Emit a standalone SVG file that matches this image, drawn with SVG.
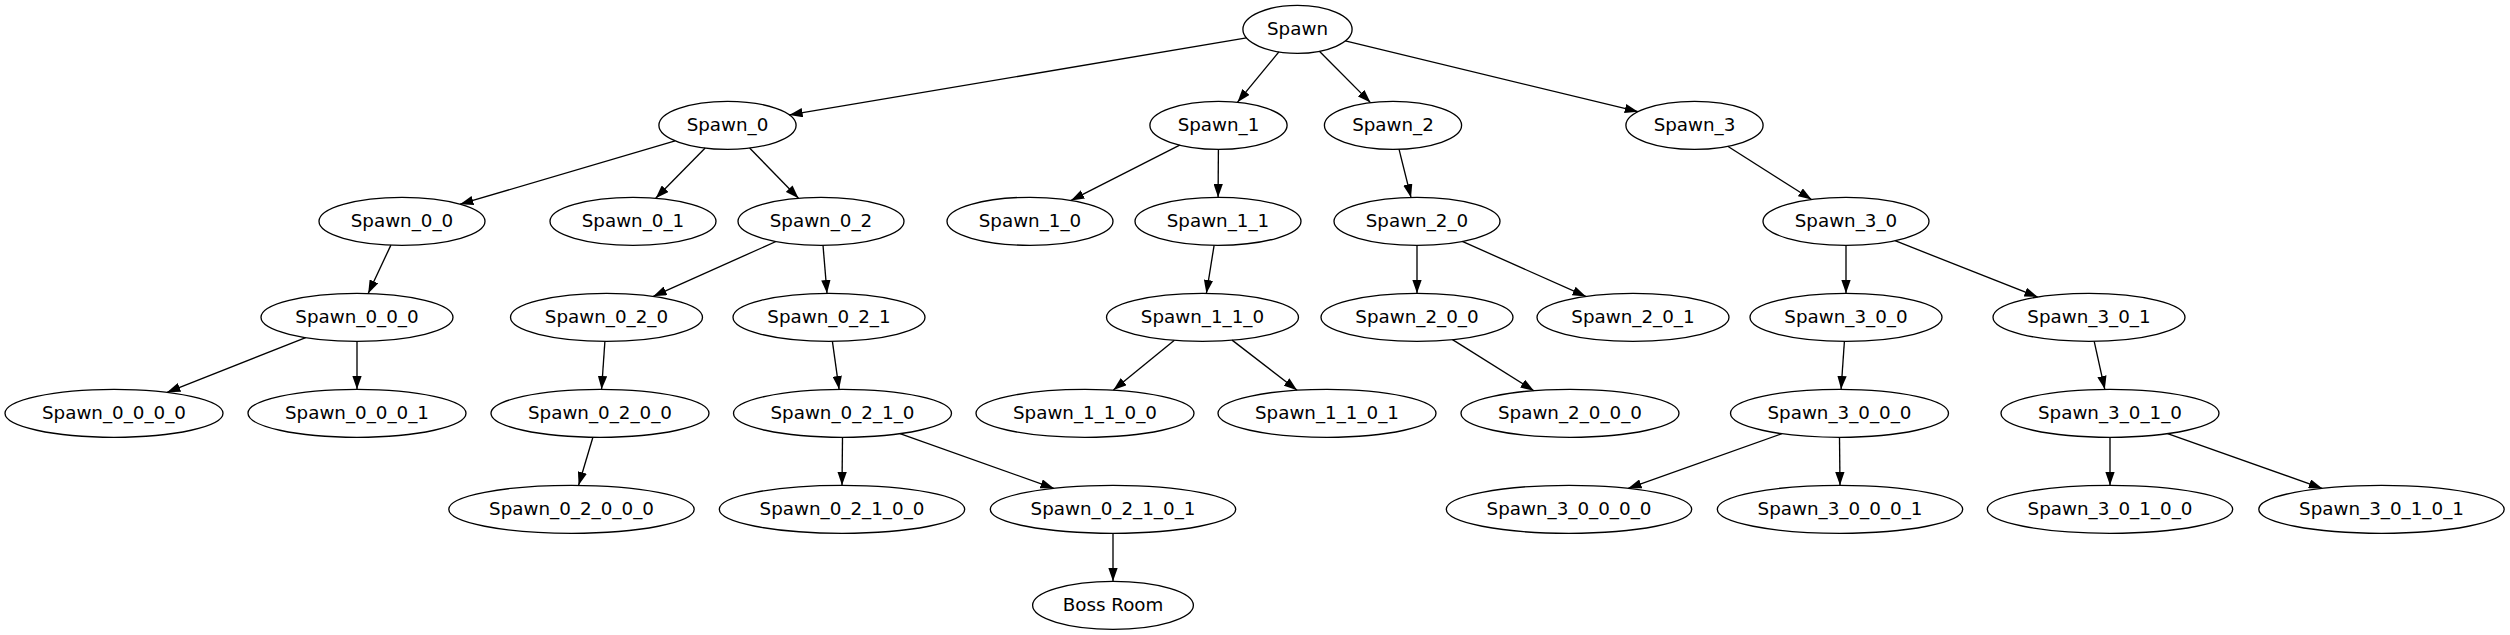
<svg xmlns="http://www.w3.org/2000/svg" width="2510" height="635" viewBox="0 0 2510 635">
<defs>
<style>
.node ellipse{fill:none;stroke:#000;stroke-width:1.33}
.node text{font-family:"DejaVu Sans","Liberation Sans",sans-serif;font-size:18.3px;text-anchor:middle;fill:#000}
#edges path{fill:none;stroke:#000;stroke-width:1.33;marker-end:url(#arrow)}
</style>
<marker id="arrow" markerUnits="userSpaceOnUse" viewBox="0 0 13.33 9.33" markerWidth="13.33" markerHeight="9.33" refX="13.33" refY="4.665" orient="auto">
<path d="M0,0 L13.33,4.665 L0,9.33 z" fill="#000"/>
</marker>
</defs>
<rect width="2510" height="635" fill="#fff"/>
<g id="edges">
<path d="M1246.5,37.9 L789.3,114.9"/>
<path d="M1278.9,51.9 L1237.5,102.2"/>
<path d="M1319.4,51.3 L1370.5,102.6"/>
<path d="M1345.3,40.9 L1638.1,111.7"/>
<path d="M675.1,140.8 L460.1,204.2"/>
<path d="M705.2,148.0 L655.7,198.2"/>
<path d="M749.6,148.0 L798.5,198.2"/>
<path d="M390.9,245.1 L368.2,293.5"/>
<path d="M305.7,337.6 L167.1,392.3"/>
<path d="M357,341.3 L357,389.3"/>
<path d="M776.0,241.5 L653.3,296.3"/>
<path d="M823.0,245.3 L827.0,293.3"/>
<path d="M604.9,341.3 L601.6,389.3"/>
<path d="M592.9,437.2 L578.6,485.3"/>
<path d="M832.4,341.3 L839.1,389.3"/>
<path d="M842.5,437.3 L842,485.3"/>
<path d="M900.0,433.7 L1053.8,488.3"/>
<path d="M1113,533.3 L1113,581.3"/>
<path d="M1179.7,145.1 L1071.0,200.4"/>
<path d="M1218.4,149.3 L1218.1,197.3"/>
<path d="M1214.1,245.3 L1206.4,293.3"/>
<path d="M1174.4,340.3 L1113.4,390.1"/>
<path d="M1232.1,340.1 L1297.1,390.2"/>
<path d="M1399.0,149.2 L1411.0,197.4"/>
<path d="M1417,245.3 L1417,293.3"/>
<path d="M1462.3,241.4 L1585.9,296.4"/>
<path d="M1452.5,339.6 L1533.9,390.7"/>
<path d="M1727.7,146.3 L1811.6,199.5"/>
<path d="M1846,245.3 L1846,293.3"/>
<path d="M1895.0,240.7 L2037.7,297.0"/>
<path d="M1844.4,341.3 L1841.1,389.3"/>
<path d="M1782.0,433.7 L1628.2,488.3"/>
<path d="M1839.5,437.3 L1840,485.3"/>
<path d="M2094.2,341.3 L2104.8,389.3"/>
<path d="M2110,437.3 L2110,485.3"/>
<path d="M2167.6,433.7 L2322.1,488.3"/>
</g>
<g id="Spawn" class="node"><ellipse cx="1297.5" cy="29.3" rx="54.6" ry="24"/><text x="1297.5" y="34.9">Spawn</text></g>
<g id="Spawn_0" class="node"><ellipse cx="727.5" cy="125.3" rx="68.6" ry="24"/><text x="727.5" y="130.9">Spawn_0</text></g>
<g id="Spawn_1" class="node"><ellipse cx="1218.5" cy="125.3" rx="68.6" ry="24"/><text x="1218.5" y="130.9">Spawn_1</text></g>
<g id="Spawn_2" class="node"><ellipse cx="1393" cy="125.3" rx="68.6" ry="24"/><text x="1393" y="130.9">Spawn_2</text></g>
<g id="Spawn_3" class="node"><ellipse cx="1694.5" cy="125.3" rx="68.6" ry="24"/><text x="1694.5" y="130.9">Spawn_3</text></g>
<g id="Spawn_0_0" class="node"><ellipse cx="402" cy="221.3" rx="83" ry="24"/><text x="402" y="226.9">Spawn_0_0</text></g>
<g id="Spawn_0_1" class="node"><ellipse cx="633" cy="221.3" rx="83" ry="24"/><text x="633" y="226.9">Spawn_0_1</text></g>
<g id="Spawn_0_2" class="node"><ellipse cx="821" cy="221.3" rx="83" ry="24"/><text x="821" y="226.9">Spawn_0_2</text></g>
<g id="Spawn_1_0" class="node"><ellipse cx="1030" cy="221.3" rx="83" ry="24"/><text x="1030" y="226.9">Spawn_1_0</text></g>
<g id="Spawn_1_1" class="node"><ellipse cx="1218" cy="221.3" rx="83" ry="24"/><text x="1218" y="226.9">Spawn_1_1</text></g>
<g id="Spawn_2_0" class="node"><ellipse cx="1417" cy="221.3" rx="83" ry="24"/><text x="1417" y="226.9">Spawn_2_0</text></g>
<g id="Spawn_3_0" class="node"><ellipse cx="1846" cy="221.3" rx="83" ry="24"/><text x="1846" y="226.9">Spawn_3_0</text></g>
<g id="Spawn_0_0_0" class="node"><ellipse cx="357" cy="317.3" rx="96" ry="24"/><text x="357" y="322.9">Spawn_0_0_0</text></g>
<g id="Spawn_0_2_0" class="node"><ellipse cx="606.5" cy="317.3" rx="96" ry="24"/><text x="606.5" y="322.9">Spawn_0_2_0</text></g>
<g id="Spawn_0_2_1" class="node"><ellipse cx="829" cy="317.3" rx="96" ry="24"/><text x="829" y="322.9">Spawn_0_2_1</text></g>
<g id="Spawn_1_1_0" class="node"><ellipse cx="1202.5" cy="317.3" rx="96" ry="24"/><text x="1202.5" y="322.9">Spawn_1_1_0</text></g>
<g id="Spawn_2_0_0" class="node"><ellipse cx="1417" cy="317.3" rx="96" ry="24"/><text x="1417" y="322.9">Spawn_2_0_0</text></g>
<g id="Spawn_2_0_1" class="node"><ellipse cx="1633" cy="317.3" rx="96" ry="24"/><text x="1633" y="322.9">Spawn_2_0_1</text></g>
<g id="Spawn_3_0_0" class="node"><ellipse cx="1846" cy="317.3" rx="96" ry="24"/><text x="1846" y="322.9">Spawn_3_0_0</text></g>
<g id="Spawn_3_0_1" class="node"><ellipse cx="2089" cy="317.3" rx="96" ry="24"/><text x="2089" y="322.9">Spawn_3_0_1</text></g>
<g id="Spawn_0_0_0_0" class="node"><ellipse cx="114" cy="413.3" rx="109" ry="24"/><text x="114" y="418.9">Spawn_0_0_0_0</text></g>
<g id="Spawn_0_0_0_1" class="node"><ellipse cx="357" cy="413.3" rx="109" ry="24"/><text x="357" y="418.9">Spawn_0_0_0_1</text></g>
<g id="Spawn_0_2_0_0" class="node"><ellipse cx="600" cy="413.3" rx="109" ry="24"/><text x="600" y="418.9">Spawn_0_2_0_0</text></g>
<g id="Spawn_0_2_1_0" class="node"><ellipse cx="842.5" cy="413.3" rx="109" ry="24"/><text x="842.5" y="418.9">Spawn_0_2_1_0</text></g>
<g id="Spawn_1_1_0_0" class="node"><ellipse cx="1085" cy="413.3" rx="109" ry="24"/><text x="1085" y="418.9">Spawn_1_1_0_0</text></g>
<g id="Spawn_1_1_0_1" class="node"><ellipse cx="1327" cy="413.3" rx="109" ry="24"/><text x="1327" y="418.9">Spawn_1_1_0_1</text></g>
<g id="Spawn_2_0_0_0" class="node"><ellipse cx="1570" cy="413.3" rx="109" ry="24"/><text x="1570" y="418.9">Spawn_2_0_0_0</text></g>
<g id="Spawn_3_0_0_0" class="node"><ellipse cx="1839.5" cy="413.3" rx="109" ry="24"/><text x="1839.5" y="418.9">Spawn_3_0_0_0</text></g>
<g id="Spawn_3_0_1_0" class="node"><ellipse cx="2110" cy="413.3" rx="109" ry="24"/><text x="2110" y="418.9">Spawn_3_0_1_0</text></g>
<g id="Spawn_0_2_0_0_0" class="node"><ellipse cx="571.5" cy="509.3" rx="122.7" ry="24"/><text x="571.5" y="514.9">Spawn_0_2_0_0_0</text></g>
<g id="Spawn_0_2_1_0_0" class="node"><ellipse cx="842" cy="509.3" rx="122.7" ry="24"/><text x="842" y="514.9">Spawn_0_2_1_0_0</text></g>
<g id="Spawn_0_2_1_0_1" class="node"><ellipse cx="1113" cy="509.3" rx="122.7" ry="24"/><text x="1113" y="514.9">Spawn_0_2_1_0_1</text></g>
<g id="Spawn_3_0_0_0_0" class="node"><ellipse cx="1569" cy="509.3" rx="122.7" ry="24"/><text x="1569" y="514.9">Spawn_3_0_0_0_0</text></g>
<g id="Spawn_3_0_0_0_1" class="node"><ellipse cx="1840" cy="509.3" rx="122.7" ry="24"/><text x="1840" y="514.9">Spawn_3_0_0_0_1</text></g>
<g id="Spawn_3_0_1_0_0" class="node"><ellipse cx="2110" cy="509.3" rx="122.7" ry="24"/><text x="2110" y="514.9">Spawn_3_0_1_0_0</text></g>
<g id="Spawn_3_0_1_0_1" class="node"><ellipse cx="2381.5" cy="509.3" rx="122.7" ry="24"/><text x="2381.5" y="514.9">Spawn_3_0_1_0_1</text></g>
<g id="Boss_Room" class="node"><ellipse cx="1113" cy="605.3" rx="80.4" ry="24"/><text x="1113" y="610.9">Boss Room</text></g>
</svg>
